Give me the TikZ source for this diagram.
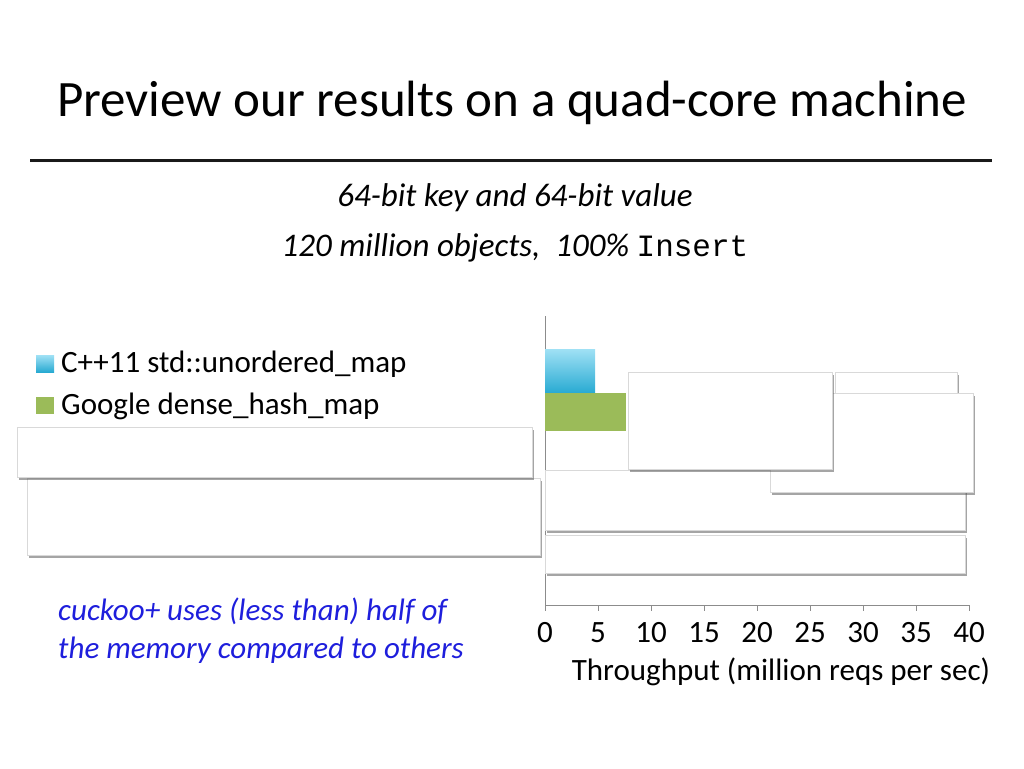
\documentclass[tikz,border=0pt]{standalone}
\usepackage{fontspec}
\setmainfont{Carlito}
\setmonofont{Liberation Mono}
\usetikzlibrary{shadows}
\definecolor{gbar}{RGB}{155,187,89}
\definecolor{btop}{RGB}{160,225,245}
\definecolor{bbot}{RGB}{40,170,210}
\definecolor{notec}{RGB}{30,30,220}
\begin{document}
\begin{tikzpicture}[x=1pt,y=-1pt,
  wbox/.style={fill=white,draw=white!85!black,line width=0.5pt,drop shadow={shadow xshift=1.5pt,shadow yshift=-2.5pt,opacity=0.5,fill=black!70}},
  lbl/.style={font=\fontsize{31}{36}\selectfont,inner sep=0pt},
  tick/.style={lbl,anchor=base}]
\useasboundingbox (0,0) rectangle (1024,768);
\node[anchor=base,font=\fontsize{51}{58}\selectfont,inner sep=0] (title) at (512,116) {Preview our results on a quad-core machine};
\draw[line width=3pt,black!90,drop shadow={shadow xshift=0pt,shadow yshift=-2pt,opacity=0.3}] (30,160) coordinate (l1) -- (992,160) coordinate (l2);
\node[anchor=base,font=\fontsize{33}{38}\selectfont\itshape,inner sep=0] (sub1) at (515,206) {64-bit key and 64-bit value};
\node[anchor=base,font=\fontsize{33}{38}\selectfont,inner sep=0] (sub2) at (515,256) {\itshape 120 million objects, \ 100\% \upshape\ttfamily\fontsize{31}{36}\selectfont Insert};
% axis
\draw[black!45,line width=0.8pt] (545,316) coordinate (ytop) -- (545,605) coordinate (orig) -- (969,605) coordinate (xend);
\foreach \v in {0,5,...,40}{
  \draw[black!45,line width=0.8pt] (545+10.6*\v,605) -- (545+10.6*\v,611);
  \node[tick] (t\v) at (545+10.6*\v,642) {\v};
}
\node[lbl,anchor=base] (xlab) at (781,680) {Throughput (million reqs per sec)};
% bars
\shade[top color=btop,bottom color=bbot] (545,349) rectangle (595,393);
\fill[gbar] (545,393) rectangle (626,431);
% legend
\shade[top color=btop,bottom color=bbot] (36,355) rectangle (54,372);
\node[lbl,anchor=base west] (leg1) at (61,372) {C++11 std::unordered\_map};
\fill[gbar] (36,397) rectangle (54,414);
\node[lbl,anchor=base west] (leg2) at (61,414) {Google dense\_hash\_map};
% covering boxes
\draw[wbox] (545,535) rectangle (965,573);
\draw[wbox] (545,470) rectangle (965,530);
\draw[wbox] (835,372) rectangle (957,400);
\draw[wbox] (770,393) rectangle (973,492);
\draw[wbox] (628,372) rectangle (832,469);
\draw[wbox] (27,478) rectangle (540,555);
\draw[wbox] (17,427) rectangle (532,477);
% note
\node[lbl,anchor=base west,text=notec,font=\fontsize{31}{36}\selectfont\itshape] (n1) at (58,620) {cuckoo+ uses (less than) half of};
\node[lbl,anchor=base west,text=notec,font=\fontsize{31}{36}\selectfont\itshape] (n2) at (58,658) {the memory compared to others};
\end{tikzpicture}
\end{document}
